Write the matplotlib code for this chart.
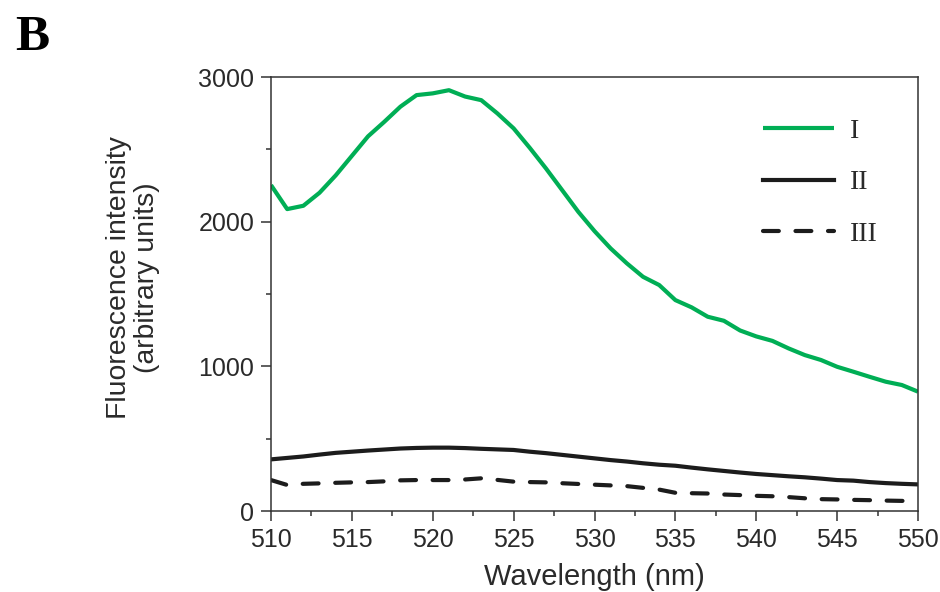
# Fluorescence emission spectra, panel B
# Three samples (I, II, III) over 510-550 nm

import numpy as np
from matplotlib import pyplot as plt
from matplotlib.ticker import MultipleLocator

# wavelength (nm), 1 nm steps
wavelength = np.arange(510, 551)

# fluorescence intensity (arbitrary units)
intensity_I = [2253, 2087, 2110, 2200, 2320, 2455, 2590, 2690, 2795, 2875,
               2887, 2909, 2865, 2840, 2748, 2645, 2510, 2368, 2218, 2068,
               1935, 1815, 1712, 1619, 1562, 1458, 1408, 1343, 1315, 1248,
               1207, 1176, 1124, 1078, 1044, 997, 963, 928, 894, 871, 825]
intensity_II = [357, 367, 377, 390, 402, 410, 418, 425, 432, 436,
                438, 438, 435, 430, 426, 422, 410, 400, 388, 376,
                364, 352, 342, 330, 320, 313, 300, 288, 277, 266,
                256, 248, 240, 233, 224, 214, 210, 200, 193, 188, 184]
intensity_III = [214, 180, 188, 191, 195, 198, 200, 205, 212, 214,
                 214, 214, 218, 226, 215, 203, 200, 198, 192, 187,
                 182, 177, 172, 160, 148, 126, 123, 121, 114, 110,
                 105, 102, 96, 88, 82, 80, 77, 75, 72, 70, 70]

labels = ['I', 'II', 'III']

green = '#00ae55'
dark = '#1c1c1c'
axis_col = '#333333'

sans = ['Liberation Sans', 'DejaVu Sans']
serif = ['Liberation Serif', 'DejaVu Serif']

fig = plt.figure(figsize=(9.4, 5.92), dpi=100)
ax = fig.add_axes([0.2883, 0.1368, 0.6883, 0.7331])

ax.plot(wavelength, intensity_I, color=green, lw=3, label=labels[0],
        solid_capstyle='butt')
ax.plot(wavelength, intensity_II, color=dark, lw=3, label=labels[1])
ax.plot(wavelength, intensity_III, color=dark, lw=3, label=labels[2],
        dashes=(3.8, 4), dash_capstyle='round')

# axes limits and ticks
ax.set_xlim(510, 550)
ax.set_ylim(0, 3000)
ax.xaxis.set_major_locator(MultipleLocator(5))
ax.xaxis.set_minor_locator(MultipleLocator(2.5))
ax.yaxis.set_major_locator(MultipleLocator(1000))
ax.yaxis.set_minor_locator(MultipleLocator(500))
ax.tick_params(which='both', direction='out', top=False, right=False,
               color=axis_col, width=1.1, labelcolor='#2a2a2a')
ax.tick_params(which='major', length=7, pad=5, labelsize=18)
ax.tick_params(which='minor', length=3.5)
for lab in ax.get_xticklabels() + ax.get_yticklabels():
    lab.set_family(sans)
for sp in ax.spines.values():
    sp.set_color(axis_col)
    sp.set_linewidth(1.1)

ax.set_xlabel('Wavelength (nm)', family=sans, fontsize=21, color='#2a2a2a',
              labelpad=8)
ax.set_ylabel('Fluorescence intensity\n(arbitrary units)', family=sans,
              fontsize=20.4, color='#2a2a2a', linespacing=1.1)
ax.yaxis.set_label_coords(-0.172, 0.537)

leg = ax.legend(loc='upper left', bbox_to_anchor=(0.76, 0.904), frameon=False,
                prop={'family': serif, 'size': 20}, handlelength=2.55,
                handletextpad=0.6, labelspacing=0.93, borderpad=0,
                borderaxespad=0)
for t in leg.get_texts():
    t.set_color('#2a2a2a')

fig.text(0.016, 0.915, 'B', family=serif, fontsize=37, fontweight='bold')

fig.savefig('out.png', dpi=100)
